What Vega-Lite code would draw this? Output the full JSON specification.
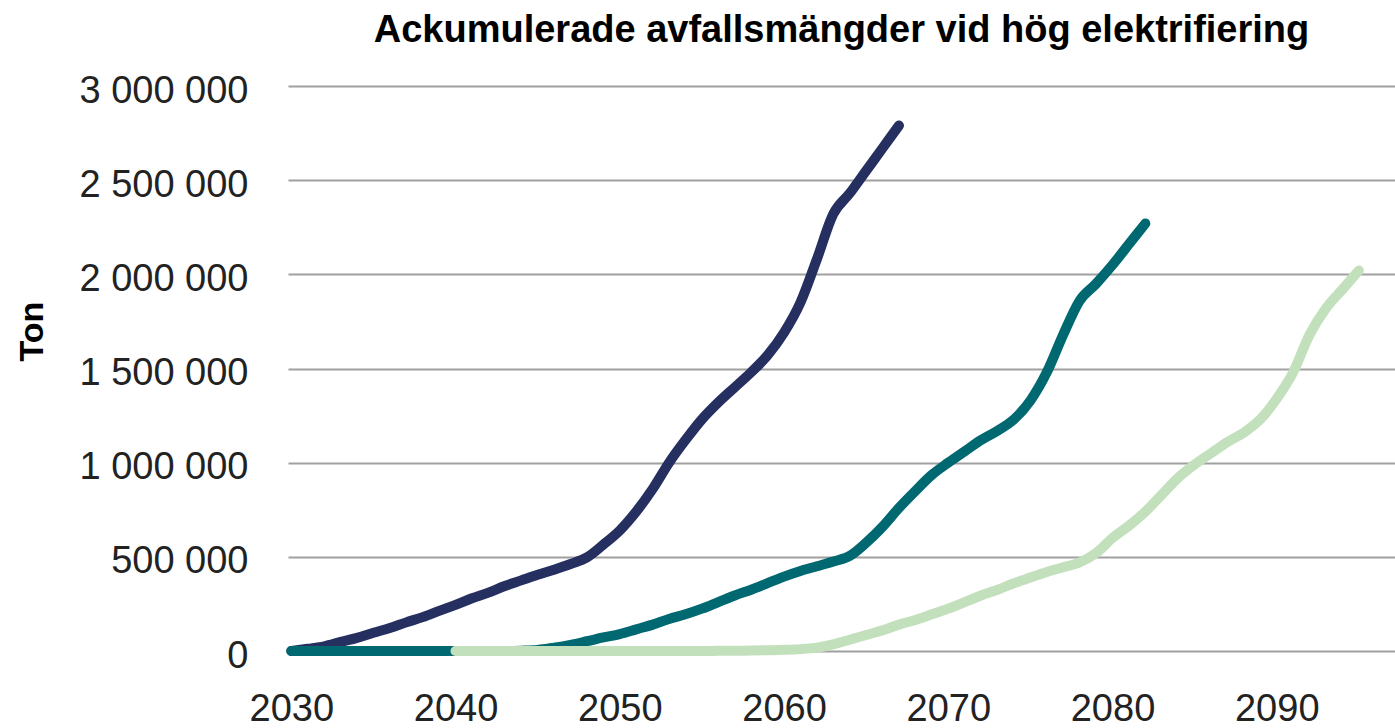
{
  "$schema": "https://vega.github.io/schema/vega-lite/v6.json",
  "autosize": {"type": "none"},
  "padding": {"left": 288, "top": 86, "right": 0, "bottom": 77},
  "width": 1107,
  "height": 565,
  "background": "white",
  "config": {
    "locale": {"number": {"decimal": ",", "thousands": " ", "grouping": [3], "currency": ["", " kr"]}},
    "view": {"stroke": null},
    "font": "Liberation Sans"
  },
  "title": {
    "text": "Ackumulerade avfallsmängder vid hög elektrifiering",
    "font": "Liberation Sans",
    "fontSize": 38,
    "fontWeight": "bold",
    "color": "#000000",
    "anchor": "middle",
    "frame": "group",
    "baseline": "alphabetic",
    "offset": -8
  },
  "data": {
    "values": [
      {"serie": "Serie 1", "year": 2030, "ton": 0},
      {"serie": "Serie 1", "year": 2031, "ton": 12000},
      {"serie": "Serie 1", "year": 2032, "ton": 25000},
      {"serie": "Serie 1", "year": 2033, "ton": 48000},
      {"serie": "Serie 1", "year": 2034, "ton": 70000},
      {"serie": "Serie 1", "year": 2035, "ton": 97000},
      {"serie": "Serie 1", "year": 2036, "ton": 122000},
      {"serie": "Serie 1", "year": 2037, "ton": 152000},
      {"serie": "Serie 1", "year": 2038, "ton": 180000},
      {"serie": "Serie 1", "year": 2039, "ton": 213000},
      {"serie": "Serie 1", "year": 2040, "ton": 245000},
      {"serie": "Serie 1", "year": 2041, "ton": 280000},
      {"serie": "Serie 1", "year": 2042, "ton": 310000},
      {"serie": "Serie 1", "year": 2043, "ton": 345000},
      {"serie": "Serie 1", "year": 2044, "ton": 375000},
      {"serie": "Serie 1", "year": 2045, "ton": 405000},
      {"serie": "Serie 1", "year": 2046, "ton": 432000},
      {"serie": "Serie 1", "year": 2047, "ton": 462000},
      {"serie": "Serie 1", "year": 2048, "ton": 497000},
      {"serie": "Serie 1", "year": 2049, "ton": 565000},
      {"serie": "Serie 1", "year": 2050, "ton": 640000},
      {"serie": "Serie 1", "year": 2051, "ton": 740000},
      {"serie": "Serie 1", "year": 2052, "ton": 860000},
      {"serie": "Serie 1", "year": 2053, "ton": 1000000},
      {"serie": "Serie 1", "year": 2054, "ton": 1120000},
      {"serie": "Serie 1", "year": 2055, "ton": 1230000},
      {"serie": "Serie 1", "year": 2056, "ton": 1320000},
      {"serie": "Serie 1", "year": 2057, "ton": 1400000},
      {"serie": "Serie 1", "year": 2058, "ton": 1480000},
      {"serie": "Serie 1", "year": 2059, "ton": 1570000},
      {"serie": "Serie 1", "year": 2060, "ton": 1690000},
      {"serie": "Serie 1", "year": 2061, "ton": 1850000},
      {"serie": "Serie 1", "year": 2062, "ton": 2080000},
      {"serie": "Serie 1", "year": 2063, "ton": 2320000},
      {"serie": "Serie 1", "year": 2064, "ton": 2430000},
      {"serie": "Serie 1", "year": 2065, "ton": 2550000},
      {"serie": "Serie 1", "year": 2066, "ton": 2670000},
      {"serie": "Serie 1", "year": 2067, "ton": 2790000},
      {"serie": "Serie 2", "year": 2030, "ton": 0},
      {"serie": "Serie 2", "year": 2031, "ton": 0},
      {"serie": "Serie 2", "year": 2032, "ton": 0},
      {"serie": "Serie 2", "year": 2033, "ton": 0},
      {"serie": "Serie 2", "year": 2034, "ton": 0},
      {"serie": "Serie 2", "year": 2035, "ton": 0},
      {"serie": "Serie 2", "year": 2036, "ton": 0},
      {"serie": "Serie 2", "year": 2037, "ton": 0},
      {"serie": "Serie 2", "year": 2038, "ton": 0},
      {"serie": "Serie 2", "year": 2039, "ton": 0},
      {"serie": "Serie 2", "year": 2040, "ton": 0},
      {"serie": "Serie 2", "year": 2041, "ton": 0},
      {"serie": "Serie 2", "year": 2042, "ton": 0},
      {"serie": "Serie 2", "year": 2043, "ton": 0},
      {"serie": "Serie 2", "year": 2044, "ton": 2000},
      {"serie": "Serie 2", "year": 2045, "ton": 6000},
      {"serie": "Serie 2", "year": 2046, "ton": 18000},
      {"serie": "Serie 2", "year": 2047, "ton": 33000},
      {"serie": "Serie 2", "year": 2048, "ton": 52000},
      {"serie": "Serie 2", "year": 2049, "ton": 72000},
      {"serie": "Serie 2", "year": 2050, "ton": 90000},
      {"serie": "Serie 2", "year": 2051, "ton": 115000},
      {"serie": "Serie 2", "year": 2052, "ton": 140000},
      {"serie": "Serie 2", "year": 2053, "ton": 170000},
      {"serie": "Serie 2", "year": 2054, "ton": 195000},
      {"serie": "Serie 2", "year": 2055, "ton": 225000},
      {"serie": "Serie 2", "year": 2056, "ton": 260000},
      {"serie": "Serie 2", "year": 2057, "ton": 295000},
      {"serie": "Serie 2", "year": 2058, "ton": 325000},
      {"serie": "Serie 2", "year": 2059, "ton": 360000},
      {"serie": "Serie 2", "year": 2060, "ton": 395000},
      {"serie": "Serie 2", "year": 2061, "ton": 425000},
      {"serie": "Serie 2", "year": 2062, "ton": 450000},
      {"serie": "Serie 2", "year": 2063, "ton": 475000},
      {"serie": "Serie 2", "year": 2064, "ton": 505000},
      {"serie": "Serie 2", "year": 2065, "ton": 575000},
      {"serie": "Serie 2", "year": 2066, "ton": 660000},
      {"serie": "Serie 2", "year": 2067, "ton": 760000},
      {"serie": "Serie 2", "year": 2068, "ton": 850000},
      {"serie": "Serie 2", "year": 2069, "ton": 935000},
      {"serie": "Serie 2", "year": 2070, "ton": 1000000},
      {"serie": "Serie 2", "year": 2071, "ton": 1060000},
      {"serie": "Serie 2", "year": 2072, "ton": 1120000},
      {"serie": "Serie 2", "year": 2073, "ton": 1170000},
      {"serie": "Serie 2", "year": 2074, "ton": 1230000},
      {"serie": "Serie 2", "year": 2075, "ton": 1330000},
      {"serie": "Serie 2", "year": 2076, "ton": 1480000},
      {"serie": "Serie 2", "year": 2077, "ton": 1680000},
      {"serie": "Serie 2", "year": 2078, "ton": 1860000},
      {"serie": "Serie 2", "year": 2079, "ton": 1950000},
      {"serie": "Serie 2", "year": 2080, "ton": 2050000},
      {"serie": "Serie 2", "year": 2081, "ton": 2160000},
      {"serie": "Serie 2", "year": 2082, "ton": 2270000},
      {"serie": "Serie 3", "year": 2040, "ton": 0},
      {"serie": "Serie 3", "year": 2041, "ton": 0},
      {"serie": "Serie 3", "year": 2042, "ton": 0},
      {"serie": "Serie 3", "year": 2043, "ton": 0},
      {"serie": "Serie 3", "year": 2044, "ton": 0},
      {"serie": "Serie 3", "year": 2045, "ton": 0},
      {"serie": "Serie 3", "year": 2046, "ton": 0},
      {"serie": "Serie 3", "year": 2047, "ton": 0},
      {"serie": "Serie 3", "year": 2048, "ton": 0},
      {"serie": "Serie 3", "year": 2049, "ton": 0},
      {"serie": "Serie 3", "year": 2050, "ton": 0},
      {"serie": "Serie 3", "year": 2051, "ton": 0},
      {"serie": "Serie 3", "year": 2052, "ton": 0},
      {"serie": "Serie 3", "year": 2053, "ton": 0},
      {"serie": "Serie 3", "year": 2054, "ton": 0},
      {"serie": "Serie 3", "year": 2055, "ton": 0},
      {"serie": "Serie 3", "year": 2056, "ton": 1000},
      {"serie": "Serie 3", "year": 2057, "ton": 1500},
      {"serie": "Serie 3", "year": 2058, "ton": 2500},
      {"serie": "Serie 3", "year": 2059, "ton": 4000},
      {"serie": "Serie 3", "year": 2060, "ton": 6000},
      {"serie": "Serie 3", "year": 2061, "ton": 10000},
      {"serie": "Serie 3", "year": 2062, "ton": 18000},
      {"serie": "Serie 3", "year": 2063, "ton": 35000},
      {"serie": "Serie 3", "year": 2064, "ton": 60000},
      {"serie": "Serie 3", "year": 2065, "ton": 85000},
      {"serie": "Serie 3", "year": 2066, "ton": 110000},
      {"serie": "Serie 3", "year": 2067, "ton": 140000},
      {"serie": "Serie 3", "year": 2068, "ton": 165000},
      {"serie": "Serie 3", "year": 2069, "ton": 195000},
      {"serie": "Serie 3", "year": 2070, "ton": 225000},
      {"serie": "Serie 3", "year": 2071, "ton": 260000},
      {"serie": "Serie 3", "year": 2072, "ton": 295000},
      {"serie": "Serie 3", "year": 2073, "ton": 325000},
      {"serie": "Serie 3", "year": 2074, "ton": 360000},
      {"serie": "Serie 3", "year": 2075, "ton": 390000},
      {"serie": "Serie 3", "year": 2076, "ton": 420000},
      {"serie": "Serie 3", "year": 2077, "ton": 445000},
      {"serie": "Serie 3", "year": 2078, "ton": 470000},
      {"serie": "Serie 3", "year": 2079, "ton": 520000},
      {"serie": "Serie 3", "year": 2080, "ton": 600000},
      {"serie": "Serie 3", "year": 2081, "ton": 665000},
      {"serie": "Serie 3", "year": 2082, "ton": 740000},
      {"serie": "Serie 3", "year": 2083, "ton": 830000},
      {"serie": "Serie 3", "year": 2084, "ton": 920000},
      {"serie": "Serie 3", "year": 2085, "ton": 990000},
      {"serie": "Serie 3", "year": 2086, "ton": 1050000},
      {"serie": "Serie 3", "year": 2087, "ton": 1110000},
      {"serie": "Serie 3", "year": 2088, "ton": 1160000},
      {"serie": "Serie 3", "year": 2089, "ton": 1230000},
      {"serie": "Serie 3", "year": 2090, "ton": 1340000},
      {"serie": "Serie 3", "year": 2091, "ton": 1480000},
      {"serie": "Serie 3", "year": 2092, "ton": 1680000},
      {"serie": "Serie 3", "year": 2093, "ton": 1820000},
      {"serie": "Serie 3", "year": 2094, "ton": 1920000},
      {"serie": "Serie 3", "year": 2095, "ton": 2020000}
    ]
  },
  "mark": {"type": "line", "strokeWidth": 10, "strokeCap": "round", "strokeJoin": "round", "interpolate": "monotone", "clip": false},
  "encoding": {
    "x": {
      "field": "year",
      "type": "quantitative",
      "scale": {"domain": [2029.8, 2097.2], "nice": false, "zero": false},
      "axis": {
        "values": [2030, 2040, 2050, 2060, 2070, 2080, 2090],
        "format": "d",
        "title": null,
        "grid": false,
        "domain": false,
        "ticks": false,
        "labelFont": "Liberation Sans",
        "labelFontSize": 38,
        "labelColor": "#222222",
        "labelPadding": 39,
        "labelBaseline": "top"
      }
    },
    "y": {
      "field": "ton",
      "type": "quantitative",
      "scale": {"domain": [0, 3000000], "nice": false},
      "axis": {
        "values": [0, 500000, 1000000, 1500000, 2000000, 2500000, 3000000],
        "format": ",d",
        "title": "Ton",
        "titleFont": "Liberation Sans",
        "titleFontSize": 34,
        "titleFontWeight": "bold",
        "titleColor": "#000000",
        "titleAngle": 270,
        "titleAlign": "center",
        "titleBaseline": "middle",
        "titleX": -256,
        "titleY": 245,
        "grid": true,
        "gridColor": "#a0a0a0",
        "gridWidth": 2,
        "domain": false,
        "ticks": false,
        "labelFont": "Liberation Sans",
        "labelFontSize": 38,
        "labelColor": "#222222",
        "labelPadding": 40,
        "labelOffset": 5
      }
    },
    "color": {
      "field": "serie",
      "type": "nominal",
      "scale": {"domain": ["Serie 1", "Serie 2", "Serie 3"], "range": ["#253061", "#006870", "#c3e0bd"]},
      "legend": null
    }
  }
}
